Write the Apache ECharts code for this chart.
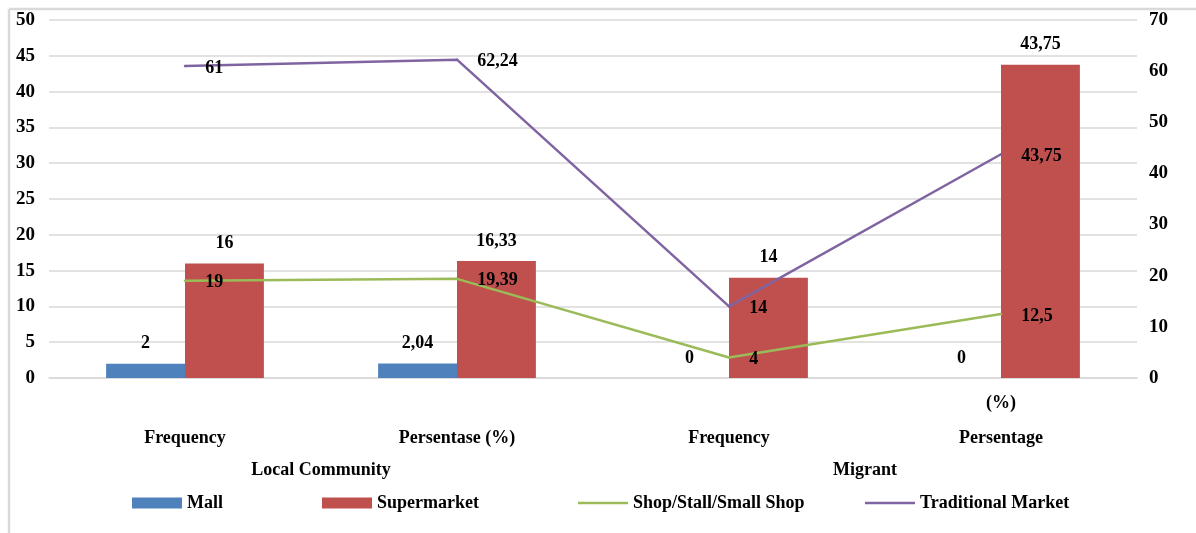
<!DOCTYPE html>
<html>
<head>
<meta charset="utf-8">
<script src="https://cdn.jsdelivr.net/npm/echarts@6/dist/echarts.min.js"></script>
<style>
  html, body { margin: 0; padding: 0; background: #fff; }
  #chart { width: 1196px; height: 533px; }
</style>
</head>
<body>
<div id="chart"></div>
<script>
// Shopping places by respondent group
const categories = ['Frequency', 'Persentase (%)', 'Frequency', 'Persentage (%)'];
const groups = ['Local Community', 'Migrant'];
const seriesNames = ['Mall', 'Supermarket', 'Shop/Stall/Small Shop', 'Traditional Market'];
const mall = [2, 2.04, 0, 0];
const supermarket = [16, 16.33, 14, 43.75];
const shopStall = [19, 19.39, 4, 12.5];
const traditionalMarket = [61, 62.24, 14, 43.75];

const FONT = '"Liberation Serif", "Times New Roman", serif';
const comma = v => String(v).replace('.', ',');
const baseText = { fontFamily: FONT, fontWeight: 'bold', color: '#000' };
const lineIcon = 'path://M0 0H46V2.5H0Z';

// one legend block per series so each entry sits in its own column
const legendLeft = [132, 322, 578, 865];
const legendIcons = ['rect', 'rect', lineIcon, lineIcon];
const legends = seriesNames.map((name, i) => ({
  left: legendLeft[i],
  top: 494,
  padding: 0,
  itemWidth: 50,
  itemHeight: 11,
  textStyle: Object.assign({ fontSize: 18 }, baseText),
  data: [{ name: name, icon: legendIcons[i] }]
}));

const chart = echarts.init(document.getElementById('chart'));

chart.setOption({
  animation: false,
  backgroundColor: '#fff',
  graphic: [
    { type: 'line', shape: { x1: 9, y1: 9, x2: 1196, y2: 9 }, style: { stroke: '#d9d9d9', lineWidth: 2.5 } },
    { type: 'line', shape: { x1: 9, y1: 9, x2: 9, y2: 533 }, style: { stroke: '#d9d9d9', lineWidth: 2.5 } }
  ],
  grid: { left: 49, right: 59, top: 20, bottom: 155 },
  legend: legends,
  xAxis: [
    {
      type: 'category',
      data: categories,
      axisLine: { show: true, lineStyle: { color: '#d9d9d9', width: 1.5 } },
      axisTick: { show: false },
      axisLabel: Object.assign({
        fontSize: 18,
        lineHeight: 17.5,
        margin: 17,
        formatter: name => name === 'Persentage (%)' ? '(%)\n\nPersentage' : '\n\n' + name
      }, baseText)
    },
    {
      type: 'category',
      data: groups,
      position: 'bottom',
      axisLine: { show: false },
      axisTick: { show: false },
      axisLabel: Object.assign({ fontSize: 18, margin: 83 }, baseText)
    }
  ],
  yAxis: [
    {
      type: 'value',
      min: 0, max: 50, interval: 5,
      axisLine: { show: false },
      axisTick: { show: false },
      splitLine: { lineStyle: { color: '#d9d9d9', width: 1.5 } },
      axisLabel: Object.assign({ fontSize: 19, margin: 14 }, baseText)
    },
    {
      type: 'value',
      min: 0, max: 70, interval: 10,
      axisLine: { show: false },
      axisTick: { show: false },
      splitLine: { show: false },
      axisLabel: Object.assign({ fontSize: 19, margin: 12 }, baseText)
    }
  ],
  series: [
    {
      name: seriesNames[0], type: 'bar', data: mall,
      barGap: '0%', barCategoryGap: '42%',
      itemStyle: { color: '#4f81bd' },
      label: Object.assign({ show: true, position: 'top', distance: 11, fontSize: 18, formatter: p => comma(p.value) }, baseText)
    },
    {
      name: seriesNames[1], type: 'bar', data: supermarket,
      barGap: '0%', barCategoryGap: '42%',
      itemStyle: { color: '#c0504d' },
      label: Object.assign({ show: true, position: 'top', distance: 11, fontSize: 18, formatter: p => comma(p.value) }, baseText)
    },
    {
      name: seriesNames[2], type: 'line', yAxisIndex: 1, data: shopStall,
      symbol: 'circle', symbolSize: 2.5,
      lineStyle: { color: '#9bbb59', width: 2.5 },
      itemStyle: { color: '#9bbb59' },
      label: Object.assign({ show: true, position: 'right', distance: 19, offset: [0, 2], fontSize: 18, formatter: p => comma(p.value) }, baseText),
      z: 3
    },
    {
      name: seriesNames[3], type: 'line', yAxisIndex: 1, data: traditionalMarket,
      symbol: 'circle', symbolSize: 2.5,
      lineStyle: { color: '#8064a2', width: 2.5 },
      itemStyle: { color: '#8064a2' },
      label: Object.assign({ show: true, position: 'right', distance: 19, offset: [0, 2], fontSize: 18, formatter: p => comma(p.value) }, baseText),
      z: 3
    }
  ]
});
</script>
</body>
</html>
